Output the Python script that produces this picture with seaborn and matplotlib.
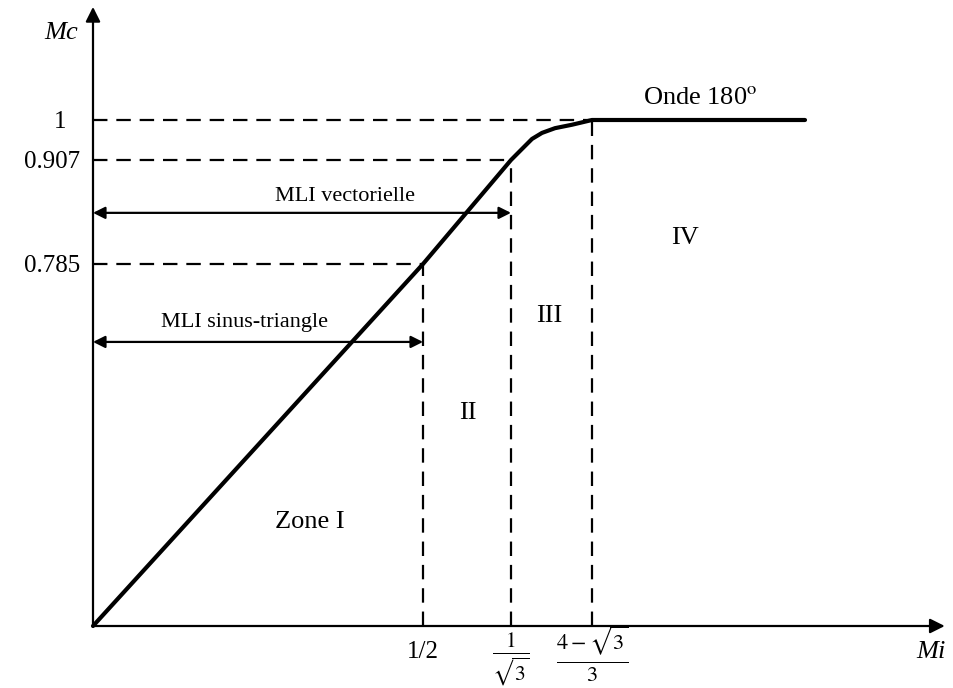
import numpy as np
import matplotlib
matplotlib.use("Agg")
import matplotlib.pyplot as plt
import seaborn as sns

# Characteristic Mc = f(Mi) of the inverter modulation zones
MI_CURVE = [0.0, 0.5, 0.57735, 0.6038, 0.6237, 0.6457, 0.6744, 0.7119, 0.75598, 1.0]
MC_CURVE = [0.0, 0.785, 0.907, 0.935, 0.956, 0.970, 0.981, 0.989, 1.0, 1.0]

# Zone boundaries on the Mi axis and the matching Mc levels
MI_BOUNDS = [0.5, 0.57735, 0.75598]
MC_LEVELS = [0.785, 0.907, 1.0]
MI_TICK_LABELS = ["1/2", r"$\frac{1}{\sqrt{3}}$", r"$\frac{4-\sqrt{3}}{3}$"]
MC_TICK_LABELS = ["0.785", "0.907", "1"]

ZONE_NAMES = ["Zone I", "II", "III", "IV"]

# Schematic (not-to-scale) axes: piecewise-linear mapping between knots
MI_KNOTS = [-0.3, 0.0, 0.5, 0.57735, 0.75598, 1.0, 1.3]
MI_SCREEN = [-105, 93, 423, 511, 592, 805, 1067]
MC_KNOTS = [-0.3, 0.0, 0.785, 0.907, 1.0, 1.5]
MC_SCREEN = [-76, 62, 424, 528, 568, 783]


def mi_fwd(v):
    return np.interp(v, MI_KNOTS, MI_SCREEN)


def mi_inv(p):
    return np.interp(p, MI_SCREEN, MI_KNOTS)


def mc_fwd(v):
    return np.interp(v, MC_KNOTS, MC_SCREEN)


def mc_inv(p):
    return np.interp(p, MC_SCREEN, MC_KNOTS)


sns.set_theme(style="white")
plt.rcParams["font.family"] = ["Liberation Serif", "DejaVu Serif"]
plt.rcParams["mathtext.fontset"] = "stix"
plt.rcParams["text.color"] = "black"

W, H = 954, 688
fig = plt.figure(figsize=(W / 100, H / 100), dpi=100)
ax = fig.add_axes([0, 0, 1, 1])
ax.set_xscale("function", functions=(mi_fwd, mi_inv))
ax.set_yscale("function", functions=(mc_fwd, mc_inv))
ax.set_xlim(float(mi_inv(0)), float(mi_inv(W)))
ax.set_ylim(float(mc_inv(0)), float(mc_inv(H)))
for s in ax.spines.values():
    s.set_visible(False)
ax.grid(False)
ax.set_xticks([])
ax.set_yticks([])

K = "black"

# Axes with arrow heads
MI_AXIS_END = 1.16
MC_AXIS_END = 1.263
ax.annotate("", xy=(MI_AXIS_END, 0), xytext=(0, 0),
            arrowprops=dict(arrowstyle="-|>", color=K, lw=1.6,
                            mutation_scale=22, shrinkA=0, shrinkB=0))
ax.annotate("", xy=(0, MC_AXIS_END), xytext=(0, 0),
            arrowprops=dict(arrowstyle="-|>", color=K, lw=1.6,
                            mutation_scale=22, shrinkA=0, shrinkB=0))

# Dashed guides
dash = dict(color=K, lw=1.6, ls=(0, (6.5, 4)))
for mi, mc in zip(MI_BOUNDS, MC_LEVELS):
    ax.plot([mi, mi], [0, mc], **dash)
    ax.plot([0, mi], [mc, mc], **dash)

# Characteristic curve
sns.lineplot(x=MI_CURVE, y=MC_CURVE, ax=ax, color=K, lw=3.0,
             sort=False, estimator=None, solid_capstyle="round",
             solid_joinstyle="round")

# Double arrows for the linear ranges
ax.annotate("", xy=(MI_BOUNDS[1], 0.845), xytext=(0, 0.845),
            arrowprops=dict(arrowstyle="<|-|>", color=K, lw=1.6,
                            mutation_scale=18, shrinkA=0, shrinkB=0))
ax.annotate("", xy=(MI_BOUNDS[0], 0.616), xytext=(0, 0.616),
            arrowprops=dict(arrowstyle="<|-|>", color=K, lw=1.6,
                            mutation_scale=18, shrinkA=0, shrinkB=0))
ax.text(0.382, 0.864, "MLI vectorielle", ha="center", va="center", fontsize=16)
ax.text(0.229, 0.659, "MLI sinus-triangle", ha="center", va="center", fontsize=16)

# Zone labels
zone_pos = [(0.329, 0.226), (0.5396, 0.462), (0.6611, 0.6725), (0.8625, 0.8155)]
for name, (x, y) in zip(ZONE_NAMES, zone_pos):
    ax.text(x, y, name, ha="center", va="center", fontsize=19)
ax.text(0.88, 1.051, r"Onde 180$^{\mathrm{o}}$", ha="center", va="center", fontsize=19)

# Axis names
ax.text(-0.0485, 1.202, "Mc", ha="center", va="center", fontsize=19, style="italic")
ax.text(1.144, -0.0564, "Mi", ha="center", va="center", fontsize=19, style="italic")

# Tick labels on the axes through the origin
x_label_drop = [19, 24.5, 20.5]   # points below the Mi axis
x_label_size = [18, 22, 23]
for mi, lab, dy, fs in zip(MI_BOUNDS, MI_TICK_LABELS, x_label_drop, x_label_size):
    ax.annotate(lab, xy=(mi, 0), xytext=(0, -dy), textcoords="offset points",
                ha="center", va="center", fontsize=fs)
y_label_gap = [9.5, 9.5, 19]  # points left of the Mc axis
for mc, lab, dx in zip(MC_LEVELS, MC_TICK_LABELS, y_label_gap):
    ax.annotate(lab, xy=(0, mc), xytext=(-dx, -1.5), textcoords="offset points",
                ha="right", va="center", fontsize=18)

fig.savefig("out.png", dpi=100, facecolor="white")
